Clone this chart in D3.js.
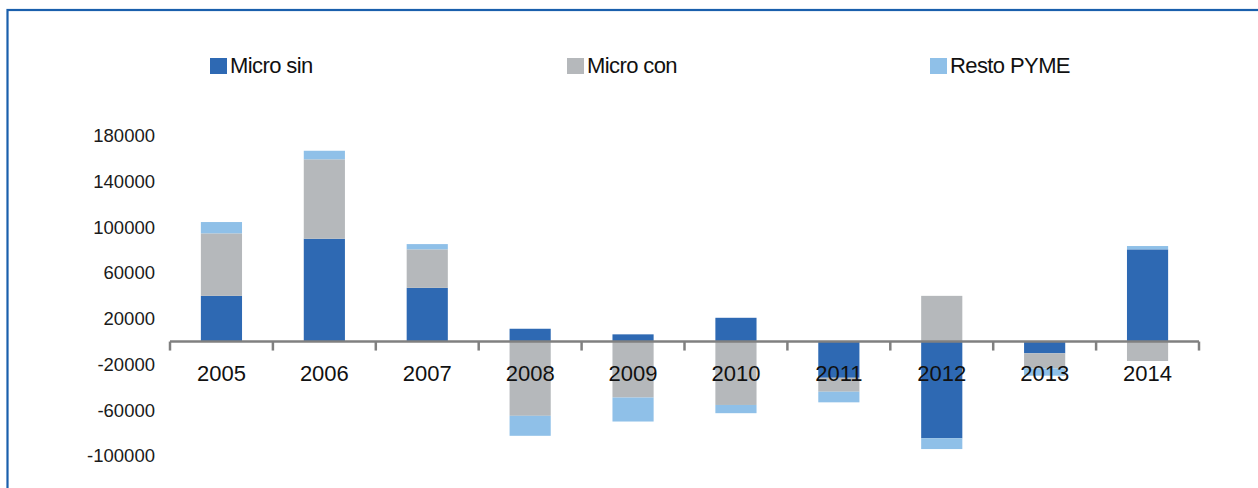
<!DOCTYPE html>
<html>
<head>
<meta charset="utf-8">
<script src="https://cdn.jsdelivr.net/npm/d3@7"></script>
<style>
  body { margin: 0; background: #fff; }
  text { font-family: "Liberation Sans", Arial, sans-serif; }
</style>
</head>
<body>
<div id="chart"></div>
<script>
// data
const years = ["2005", "2006", "2007", "2008", "2009", "2010", "2011", "2012", "2013", "2014"];
const microSin = [40000, 90000, 47000, 11200, 6300, 20800, -31700, -84700, -10300, 80700];
const microCon = [54700, 69500, 33700, -65000, -49000, -55500, -12200, 40000, -13200, -17000];
const restoPyme = [9900, 7500, 4600, -17500, -21000, -7200, -9300, -9400, -6400, 2900];
const seriesNames = ["Micro sin", "Micro con", "Resto PYME"];
const yTicks = [-100000, -60000, -20000, 20000, 60000, 100000, 140000, 180000];

const colors = ["#2e69b3", "#b5b8bb", "#8fc0e8"];
const width = 1258, height = 488;

const rows = years.map((y, i) => ({
  year: y,
  "Micro sin": microSin[i],
  "Micro con": microCon[i],
  "Resto PYME": restoPyme[i]
}));

const stack = d3.stack()
  .keys(seriesNames)
  .offset(d3.stackOffsetDiverging);
const layers = stack(rows);

const x = d3.scaleBand().domain(years).range([170, 1199]).padding(0);
const y = d3.scaleLinear().domain([-100000, 180000]).range([455.8, 135.9]);
const barW = x.bandwidth() * 0.4;

const svg = d3.select("#chart").append("svg")
  .attr("width", width)
  .attr("height", height);

// frame, runs off the right and bottom edges
svg.append("rect")
  .attr("x", 7.5).attr("y", 10)
  .attr("width", 1400).attr("height", 600)
  .attr("fill", "none")
  .attr("stroke", "#1a5fac")
  .attr("stroke-width", 2.2);

// legend
const legendX = [210, 567, 930];
const legend = svg.append("g").selectAll("g")
  .data(seriesNames)
  .enter().append("g")
  .attr("transform", (d, i) => `translate(${legendX[i]},58)`);
legend.append("rect")
  .attr("width", 17).attr("height", 16)
  .attr("fill", (d, i) => colors[i]);
legend.append("text")
  .attr("x", 20).attr("y", 14.5)
  .style("font-size", "22px")
  .style("letter-spacing", "-0.6px")
  .attr("fill", "#111")
  .text(d => d);

// bars
svg.append("g").selectAll("g")
  .data(layers)
  .enter().append("g")
  .attr("fill", (d, i) => colors[i])
  .selectAll("rect")
  .data(d => d)
  .enter().append("rect")
  .attr("x", d => x(d.data.year) + (x.bandwidth() - barW) / 2)
  .attr("width", barW)
  .attr("y", d => y(Math.max(d[0], d[1])))
  .attr("height", d => Math.abs(y(d[0]) - y(d[1])));

// y axis (labels only), plain hyphen for negatives
const yAxis = svg.append("g")
  .attr("transform", "translate(157,0)")
  .call(d3.axisLeft(y).tickValues(yTicks).tickSize(0).tickPadding(2).tickFormat(d => String(d)));
yAxis.select(".domain").remove();
yAxis.selectAll("text")
  .attr("fill", "#1a1a1a")
  .style("font-size", "18.5px")
  .style("font-family", "'Liberation Sans', Arial, sans-serif");

// zero line with boundary ticks
const y0 = y(0);
svg.append("line")
  .attr("x1", x.range()[0]).attr("x2", x.range()[1])
  .attr("y1", y0).attr("y2", y0)
  .attr("stroke", "#808080").attr("stroke-width", 2.5);
const bounds = years.map(d => x(d)).concat([x.range()[1]]);
svg.append("g").selectAll("line")
  .data(bounds)
  .enter().append("line")
  .attr("x1", d => d).attr("x2", d => d)
  .attr("y1", y0).attr("y2", y0 + 9)
  .attr("stroke", "#808080").attr("stroke-width", 2.5);

// year labels drawn over the bars
const xAxis = svg.append("g")
  .attr("transform", `translate(0,${y0})`)
  .call(d3.axisBottom(x).tickSize(0).tickPadding(24));
xAxis.select(".domain").remove();
xAxis.selectAll("text")
  .attr("fill", "#111")
  .style("font-size", "22px")
  .style("font-family", "'Liberation Sans', Arial, sans-serif");
</script>
</body>
</html>
